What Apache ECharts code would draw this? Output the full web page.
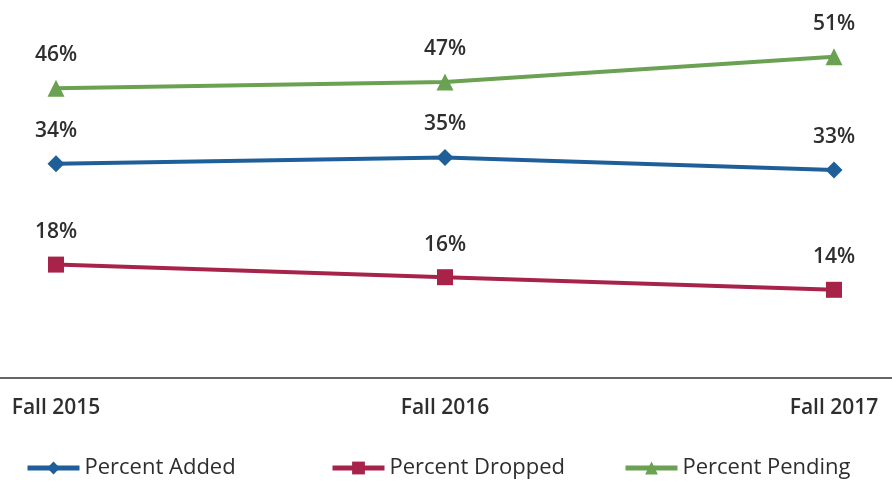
<!DOCTYPE html>
<html>
<head>
<meta charset="utf-8">
<script src="https://cdn.jsdelivr.net/npm/echarts@6/dist/echarts.min.js"></script>
<style>
  html, body { margin: 0; padding: 0; background: #fff; }
  #chart { width: 892px; height: 487px; }
</style>
</head>
<body>
<div id="chart"></div>
<script>
const categories = ["Fall 2015", "Fall 2016", "Fall 2017"];
const percentAdded = [34, 35, 33];
const percentDropped = [18, 16, 14];
const percentPending = [46, 47, 51];

const FONT = "'Open Sans', sans-serif";
const TEXT = "#2e2e2e";

const chart = echarts.init(document.getElementById("chart"));

// x as a value axis so the baseline runs edge to edge while points sit at 56 / 834px
const xMin = -56 / 389;
const xMax = xMin + 892 / 389;

function series(name, data, color, symbol, size) {
  return {
    name,
    type: "line",
    data: data.map((v, i) => [i, v]),
    symbol,
    symbolSize: size,
    lineStyle: { color, width: 4 },
    itemStyle: { color },
    label: {
      show: true,
      position: "top",
      distance: 14,
      formatter: (p) => p.value[1] + "%",
      color: TEXT,
      fontFamily: FONT,
      fontSize: 21,
      fontWeight: 600,
    },
  };
}

chart.setOption({
  animation: false,
  grid: { left: 0, right: 0, top: 0, bottom: 109 },
  xAxis: {
    type: "value",
    min: xMin,
    max: xMax,
    splitLine: { show: false },
    axisTick: { show: false },
    axisLine: { show: true, lineStyle: { color: "#666", width: 2 } },
    axisLabel: {
      customValues: [0, 1, 2],
      formatter: (v) => categories[Math.round(v)],
      margin: 20,
      color: TEXT,
      fontFamily: FONT,
      fontSize: 21,
      fontWeight: 600,
    },
  },
  yAxis: {
    type: "value",
    min: 0,
    max: 60,
    show: false,
  },
  legend: [
    { data: ["Percent Added"], left: 20 },
    { data: ["Percent Dropped"], left: 325 },
    { data: ["Percent Pending"], left: 618 },
  ].map((l) => Object.assign(l, {
    bottom: 3,
    itemWidth: 52,
    itemHeight: 16,
    lineStyle: { width: 5 },
    textStyle: { color: TEXT, fontFamily: FONT, fontSize: 22 },
  })),
  series: [
    series("Percent Added", percentAdded, "#1f5f99", "diamond", 17),
    series("Percent Dropped", percentDropped, "#a8234a", "rect", 16),
    series("Percent Pending", percentPending, "#6aa152", "triangle", 17),
  ],
});
</script>
</body>
</html>
